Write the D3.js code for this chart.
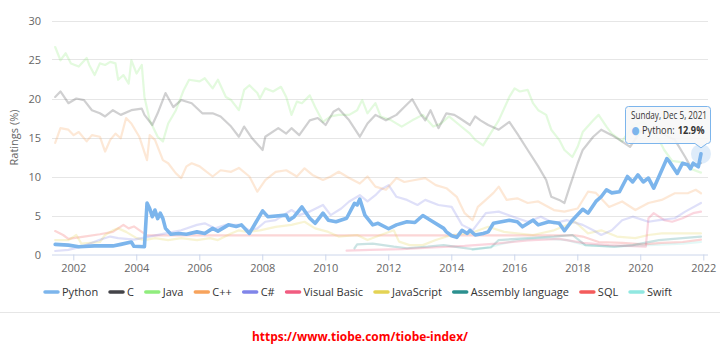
<!DOCTYPE html>
<html>
<head>
<meta charset="utf-8">
<script src="https://cdn.jsdelivr.net/npm/d3@7"></script>
<style>
  html, body { margin: 0; padding: 0; background: #fff; }
  svg { display: block; font-family: "Open Sans", "DejaVu Sans", sans-serif; }
</style>
</head>
<body>
<svg id="chart" width="720" height="347"></svg>
<script>
// ---------------- DATA ----------------
const seriesNames = ["Python", "C", "Java", "C++", "C#", "Visual Basic", "JavaScript", "Assembly language", "SQL", "Swift"];
const seriesColors = ["#7cb5ec", "#434348", "#90ed7d", "#f7a35c", "#8085e9", "#f15c80", "#e4d354", "#2b908f", "#f45b5b", "#91e8e1"];
const yTicks = [0, 5, 10, 15, 20, 25, 30];
const xTickYears = [2002, 2004, 2006, 2008, 2010, 2012, 2014, 2016, 2018, 2020, 2022];

const pythonData = [
  ["2001-06",1.3],["2001-11",1.2],["2002-03",1.0],["2002-09",1.1],["2003-04",1.1],["2003-07",1.3],["2003-11",1.6],["2003-12",1.05],
  ["2004-04",1.0],["2004-05",6.6],["2004-06",5.9],["2004-07",4.85],["2004-08",5.7],["2004-09",4.6],["2004-10",5.3],["2004-11",4.6],
  ["2004-12",3.35],["2005-02",2.6],["2005-05",2.7],["2005-08",2.6],["2005-12",2.9],["2006-03",2.7],["2006-06",3.35],["2006-08",3.0],
  ["2006-12",3.8],["2007-03",3.6],["2007-05",3.8],["2007-08",2.7],["2008-01",5.6],["2008-03",4.85],["2008-10",5.05],["2008-11",4.4],
  ["2009-01",4.85],["2009-04",6.1],["2009-07",4.65],["2009-09",4.0],["2009-12",5.3],["2010-02",4.4],["2010-05",4.2],["2010-09",4.65],
  ["2010-12",6.55],["2011-01",6.35],["2011-02",7.1],["2011-04",5.05],["2011-07",3.8],["2011-09",4.0],["2012-01",3.3],["2012-04",3.8],
  ["2012-08",4.2],["2012-11",4.1],["2013-02",5.0],["2013-05",4.4],["2013-10",3.35],["2013-11",2.9],["2014-01",2.4],["2014-03",2.2],
  ["2014-05",3.1],["2014-07",2.7],["2014-08",3.1],["2014-10",2.5],["2015-01",2.7],["2015-03",2.9],["2015-05",4.0],["2015-08",4.2],
  ["2015-11",4.4],["2016-02",4.2],["2016-04",3.55],["2016-08",4.4],["2016-10",3.8],["2017-02",4.2],["2017-06",4.0],["2017-08",3.05],
  ["2017-11",4.4],["2018-03",5.8],["2018-05",5.3],["2018-08",6.8],["2018-10",7.4],["2018-12",8.3],["2019-02",7.9],["2019-05",8.05],
  ["2019-08",10.0],["2019-10",9.3],["2019-12",10.2],["2020-02",9.3],["2020-04",9.8],["2020-06",8.5],["2020-08",10.0],["2020-11",12.3],
  ["2020-12",11.9],["2021-03",10.4],["2021-05",11.7],["2021-07",11.5],["2021-08",11.0],["2021-09",11.7],["2021-11",11.25],["2021-12",12.9]
];
const cData = [
  ["2001-06",20.2],["2001-08",20.9],["2001-11",19.4],["2002-02",20.0],["2002-05",19.8],["2002-08",18.5],["2002-11",18.1],["2003-01",17.7],
  ["2003-04",18.5],["2003-07",17.9],["2003-11",18.5],["2004-03",18.7],["2004-04",17.9],["2004-07",16.6],["2004-09",18.1],["2004-12",20.7],
  ["2005-03",18.9],["2005-06",19.8],["2005-10",19.4],["2006-02",18.1],["2006-06",18.1],["2006-09",17.7],["2007-01",16.4],["2007-04",15.1],
  ["2007-06",16.4],["2007-09",14.9],["2008-01",13.4],["2008-02",15.1],["2008-07",16.2],["2008-10",15.5],["2008-12",16.2],["2009-03",15.3],
  ["2009-07",17.2],["2009-10",17.5],["2010-01",16.6],["2010-04",18.3],["2010-06",18.7],["2010-10",17.2],["2011-02",15.1],["2011-05",16.8],
  ["2011-08",17.9],["2011-12",17.2],["2012-04",17.9],["2012-07",18.9],["2012-10",19.9],["2013-01",18.1],["2013-03",17.2],["2013-05",18.5],
  ["2013-08",16.2],["2013-11",18.1],["2014-02",17.9],["2014-04",17.5],["2014-08",16.6],["2014-10",17.7],["2014-12",17.2],["2015-03",16.6],
  ["2015-07",16.0],["2015-11",17.0],["2016-02",15.5],["2016-06",13.4],["2016-10",11.3],["2017-01",9.55],["2017-03",7.4],["2017-06",7.0],
  ["2017-08",6.6],["2017-10",8.7],["2018-01",11.7],["2018-03",13.4],["2018-07",15.1],["2018-10",16.0],["2019-02",15.3],["2019-05",14.7],
  ["2019-09",13.8],["2020-01",15.8],["2020-05",16.0],["2020-09",15.5],["2021-02",14.7],["2021-06",12.5],["2021-08",11.3],["2021-12",11.7]
];
const javaData = [
  ["2001-06",26.6],["2001-08",24.9],["2001-10",25.8],["2001-12",24.5],["2002-03",24.1],["2002-06",25.2],["2002-07",24.3],["2002-09",23.0],
  ["2002-11",24.5],["2003-01",24.3],["2003-03",24.7],["2003-05",24.5],["2003-06",22.4],["2003-08",23.0],["2003-10",21.9],["2003-11",24.9],
  ["2004-01",23.2],["2004-03",24.3],["2004-04",20.2],["2004-06",17.2],["2004-09",15.1],["2004-11",14.5],["2005-01",16.8],["2005-04",18.5],
  ["2005-07",21.1],["2005-09",22.4],["2006-01",22.2],["2006-03",22.6],["2006-06",21.3],["2006-08",22.4],["2006-11",20.2],["2007-01",19.8],
  ["2007-04",18.5],["2007-06",21.1],["2007-08",21.7],["2007-11",20.7],["2007-12",20.0],["2008-02",21.3],["2008-05",20.9],["2008-08",21.5],
  ["2008-10",20.2],["2008-12",17.9],["2009-02",19.6],["2009-04",19.4],["2009-07",20.4],["2009-09",18.9],["2009-12",17.0],["2010-03",17.7],
  ["2010-06",17.9],["2010-10",17.9],["2011-01",18.5],["2011-03",19.8],["2011-05",18.1],["2011-08",19.4],["2011-10",17.7],["2012-02",17.2],
  ["2012-06",16.4],["2012-10",17.2],["2013-02",17.9],["2013-06",16.4],["2013-09",16.8],["2013-12",17.7],["2014-04",16.6],["2014-08",15.5],
  ["2014-10",14.7],["2015-01",14.0],["2015-07",17.2],["2015-11",20.2],["2016-01",21.3],["2016-03",20.9],["2016-06",21.1],["2016-08",19.4],
  ["2016-10",18.5],["2017-01",17.9],["2017-03",16.0],["2017-06",14.7],["2017-08",13.4],["2017-11",12.5],["2018-01",13.8],["2018-03",15.7],
  ["2018-07",17.2],["2018-09",17.9],["2018-12",16.4],["2019-02",15.5],["2019-06",14.5],["2019-10",16.5],["2020-02",17.0],["2020-05",16.0],
  ["2020-08",14.7],["2020-10",13.4],["2021-01",12.0],["2021-05",11.8],["2021-08",11.0],["2021-12",10.5]
];
const cppData = [
  ["2001-06",14.3],["2001-08",16.2],["2001-11",16.0],["2002-01",15.3],["2002-03",15.7],["2002-06",14.5],["2002-08",15.3],["2002-11",15.1],
  ["2003-01",13.2],["2003-03",14.7],["2003-05",15.5],["2003-07",14.9],["2003-09",17.5],["2003-11",16.8],["2004-02",15.1],["2004-05",12.1],
  ["2004-06",15.3],["2004-08",14.7],["2004-11",12.1],["2005-01",11.7],["2005-04",10.4],["2005-06",9.8],["2005-08",11.3],["2005-10",11.7],
  ["2006-01",11.3],["2006-03",10.8],["2006-06",10.0],["2006-09",10.8],["2007-01",10.6],["2007-04",11.1],["2007-08",10.0],["2007-11",8.05],
  ["2008-02",9.55],["2008-06",10.6],["2008-10",10.8],["2009-02",10.0],["2009-05",11.05],["2009-08",10.2],["2009-12",9.55],["2010-03",10.0],
  ["2010-06",10.6],["2010-10",9.8],["2011-02",9.1],["2011-05",10.0],["2011-08",8.7],["2011-12",8.3],["2012-04",9.8],["2012-07",9.3],
  ["2012-11",9.55],["2013-03",9.8],["2013-07",8.9],["2013-11",8.5],["2014-03",7.4],["2014-06",5.3],["2014-09",4.4],["2014-11",6.1],
  ["2015-02",7.0],["2015-05",7.9],["2015-07",8.7],["2015-10",7.0],["2016-02",7.2],["2016-06",6.6],["2016-10",6.8],["2017-04",5.7],
  ["2017-08",5.5],["2018-01",5.9],["2018-05",8.05],["2018-08",7.9],["2019-01",6.1],["2019-06",6.8],["2019-11",5.7],["2020-04",6.6],
  ["2020-09",7.0],["2021-02",7.85],["2021-07",7.85],["2021-10",8.3],["2021-12",7.85]
];
const csharpData = [
  ["2001-06",0.45],["2001-11",0.6],["2002-04",1.0],["2002-11",1.9],["2003-03",2.3],["2003-06",2.1],["2003-12",1.9],["2004-03",2.1],
  ["2004-12",2.7],["2005-06",3.1],["2005-12",3.8],["2006-03",4.0],["2006-07",3.35],["2006-11",3.8],["2007-04",3.8],["2007-08",3.1],
  ["2007-11",3.35],["2008-02",4.2],["2008-06",4.4],["2008-12",5.7],["2009-03",5.05],["2009-07",5.5],["2009-12",6.35],["2010-03",5.05],
  ["2010-07",5.9],["2010-10",6.8],["2011-02",7.6],["2011-05",6.8],["2011-08",7.6],["2011-10",8.3],["2012-01",8.9],["2012-04",7.4],
  ["2012-08",7.0],["2012-12",6.35],["2013-03",7.0],["2013-08",6.35],["2014-01",6.1],["2014-05",3.8],["2014-09",3.1],["2014-12",4.4],
  ["2015-02",5.3],["2015-07",5.5],["2016-02",4.65],["2016-06",4.2],["2016-11",4.85],["2017-04",4.0],["2017-09",4.4],["2018-03",3.8],
  ["2018-07",3.1],["2018-10",2.5],["2019-02",3.1],["2019-06",4.4],["2019-10",4.85],["2020-04",4.2],["2020-08",4.4],["2021-02",4.65],
  ["2021-06",5.5],["2021-12",6.6]
];
const vbData = [
  ["2010-09",0.5],["2011-06",0.6],["2012-06",0.7],["2013-06",0.9],["2014-06",1.1],["2015-06",1.4],["2016-06",1.8],["2017-06",2.0],
  ["2018-03",1.5],["2019-01",1.2],["2020-03",1.0],["2020-04",4.65],["2020-06",5.3],["2020-10",4.4],["2021-01",4.2],["2021-05",4.65],
  ["2021-09",5.3],["2021-12",5.5]
];
const jsData = [
  ["2001-06",1.85],["2001-11",1.85],["2002-02",2.5],["2002-04",1.4],["2002-11",1.6],["2003-01",2.5],["2003-04",3.1],["2003-06",3.35],
  ["2003-09",2.9],["2004-01",2.1],["2004-04",1.85],["2004-08",2.1],["2005-01",1.85],["2005-06",2.1],["2005-12",1.85],["2006-05",2.1],
  ["2006-08",1.85],["2007-01",2.7],["2007-04",3.1],["2007-07",2.9],["2007-12",3.1],["2008-06",3.55],["2008-12",3.8],["2009-05",4.2],
  ["2009-09",3.35],["2010-02",2.9],["2010-06",2.3],["2011-01",2.5],["2011-05",1.85],["2011-10",2.5],["2012-03",3.1],["2012-05",1.65],
  ["2012-09",1.2],["2013-02",1.2],["2013-07",1.85],["2014-01",2.5],["2014-08",2.7],["2015-03",3.55],["2015-09",2.9],["2016-08",2.5],
  ["2017-04",3.1],["2017-12",4.2],["2018-05",2.7],["2018-10",3.1],["2019-04",2.3],["2019-11",2.1],["2020-04",2.5],["2020-09",2.7],
  ["2021-05",2.7],["2021-12",2.7]
];
const asmData = [
  ["2010-12",0.8],["2011-01",1.3],["2011-07",1.4],["2012-03",1.0],["2012-08",0.8],["2013-04",1.0],["2013-10",1.2],["2014-02",1.0],
  ["2014-09",0.7],["2015-04",0.9],["2015-07",1.85],["2016-06",2.1],["2017-04",2.3],["2017-11",2.5],["2018-04",1.2],["2019-03",1.0],
  ["2019-10",1.2],["2020-08",1.85],["2021-05",2.1],["2021-12",2.3]
];
const sqlData = [
  ["2001-06",3.0],["2001-09",2.5],["2001-11",2.0],["2002-05",2.3],["2002-11",2.6],["2003-04",2.9],["2003-08",3.8],["2003-10",3.35],
  ["2003-12",3.6],["2004-03",2.9],["2004-05",2.45],["2017-12",2.45],["2018-03",2.3],["2018-09",1.6],["2019-06",1.5],["2020-02",1.3],
  ["2020-09",1.5],["2021-05",1.6],["2021-12",1.9]
];
const swiftData = [
  ["2014-09",0.6],["2015-04",1.0],["2016-02",1.85],["2016-11",2.1],["2017-09",1.85],["2018-04",1.2],["2019-03",1.0],["2020-04",1.2],
  ["2021-05",1.4],["2021-12",1.6]
];
const seriesData = [pythonData, cData, javaData, cppData, csharpData, vbData, jsData, asmData, sqlData, swiftData];
const tooltipDate = "2021-12-05";
const yTitle = "Ratings (%)";
const sourceUrl = "https://www.tiobe.com/tiobe-index/";

// ---------------- CHART ----------------
const svg = d3.select("#chart");
const plot = { left: 52, right: 708, top: 20.5, bottom: 254.5 };

const parseMonth = s => { const [yy, mm] = s.split("-").map(Number); return new Date(yy, mm - 1, 5); };

function fitWidth(sel, target, base) {
  const w = sel.node().getComputedTextLength();
  if (w > 0) sel.style("font-size", (base * target / w).toFixed(2) + "px");
}

const x = d3.scaleTime()
  .domain([new Date(2002, 0, 1), new Date(2022, 0, 1)])
  .range([73.3, 703.3]);
const y = d3.scaleLinear().domain([0, 30]).range([plot.bottom, plot.top]);

// gridlines
svg.append("g").selectAll("line")
  .data(yTicks.filter(v => v > 0))
  .join("line")
  .attr("x1", plot.left).attr("x2", plot.right)
  .attr("y1", d => Math.round(y(d)) + 0.5).attr("y2", d => Math.round(y(d)) + 0.5)
  .attr("stroke", "#e6e6e6").attr("stroke-width", 1);

// y axis labels
const yAxis = d3.axisLeft(y).tickValues(yTicks).tickSize(0).tickPadding(11);
const gy = svg.append("g").attr("transform", `translate(${plot.left},0)`).call(yAxis);
gy.select(".domain").remove();
gy.selectAll("text").attr("fill", "#666").style("font-size", "11px").style("font-family", "'Open Sans', sans-serif");

// y title
svg.append("text")
  .attr("transform", `translate(18,${(plot.top + plot.bottom) / 2}) rotate(-90)`)
  .attr("text-anchor", "middle")
  .attr("fill", "#666")
  .style("font-size", "11px")
  .text(yTitle);

// x axis
const xAxis = d3.axisBottom(x)
  .tickValues(xTickYears.map(yr => new Date(yr, 0, 1)))
  .tickFormat(d3.timeFormat("%Y"))
  .tickSize(6).tickPadding(4);
const gx = svg.append("g").attr("transform", `translate(0,${plot.bottom})`).call(xAxis);
gx.select(".domain").remove();
gx.selectAll(".tick line").attr("stroke", "#ccd6eb");
gx.selectAll("text").attr("fill", "#666").style("font-size", "11px").style("font-family", "'Open Sans', sans-serif");
svg.append("line")
  .attr("x1", plot.left).attr("x2", plot.right)
  .attr("y1", plot.bottom + 0.5).attr("y2", plot.bottom + 0.5)
  .attr("stroke", "#ccd6eb").attr("stroke-width", 1);

// lines
const line = d3.line()
  .x(d => x(parseMonth(d[0])))
  .y(d => y(d[1]))
  .curve(d3.curveLinear);

const lineG = svg.append("g");
for (let i = seriesNames.length - 1; i >= 1; i--) {
  lineG.append("path")
    .datum(seriesData[i])
    .attr("d", line)
    .attr("fill", "none")
    .attr("stroke", seriesColors[i])
    .attr("stroke-width", 2.2)
    .attr("stroke-linejoin", "round")
    .attr("stroke-linecap", "round")
    .attr("opacity", 0.25);
}
lineG.append("path")
  .datum(pythonData)
  .attr("d", line)
  .attr("fill", "none")
  .attr("stroke", seriesColors[0])
  .attr("stroke-width", 3.6)
  .attr("stroke-linejoin", "round")
  .attr("stroke-linecap", "round");

// hovered point halo
const last = pythonData[pythonData.length - 1];
const [ty, tm, td] = tooltipDate.split("-").map(Number);
const hoverDate = new Date(ty, tm - 1, td);
const px = x(hoverDate), py = y(last[1]);
svg.append("circle").attr("cx", px).attr("cy", py).attr("r", 10)
  .attr("fill", seriesColors[0]).attr("opacity", 0.25);

// tooltip
const tip = svg.append("g");
const bx = 625.5, by = 106.5, bw = 85, bh = 37, r = 3;
const ax = px, ay = py - 6;
const pathD = `M${bx + r},${by} H${bx + bw - r} Q${bx + bw},${by} ${bx + bw},${by + r} V${by + bh - r} Q${bx + bw},${by + bh} ${bx + bw - r},${by + bh}` +
  ` H${ax + 6} L${ax},${ay} L${ax - 6},${by + bh} H${bx + r} Q${bx},${by + bh} ${bx},${by + bh - r} V${by + r} Q${bx},${by} ${bx + r},${by} Z`;
tip.append("path").attr("d", pathD)
  .attr("fill", "rgba(247,247,247,0.9)")
  .attr("stroke", seriesColors[0]).attr("stroke-width", 1);

// a row of text pieces laid side by side, then squeezed horizontally to a target width
function textRow(parent, x0, y0, pieces, size, target) {
  const g = parent.append("g");
  let cx = 0;
  pieces.forEach(p => {
    const t = g.append("text").attr("x", cx).attr("y", 0)
      .attr("fill", p.color || "#333").style("font-size", size + "px")
      .style("font-weight", p.bold ? "bold" : "normal").text(p.text);
    cx += t.node().getComputedTextLength() + (p.space || 0);
  });
  const s = Math.min(1, target / cx);
  g.attr("transform", `translate(${x0},${y0}) scale(${s},1)`);
}
textRow(tip, bx + 5.5, by + 12.5, [{ text: d3.timeFormat("%A, %b %-d, %Y")(hoverDate) }], 10, 76);
textRow(tip, bx + 6, by + 27.5, [
  { text: "\u25CF", color: seriesColors[0], space: 3 },
  { text: seriesNames[0] + ":", space: 3.5 },
  { text: d3.format(".1f")(last[1]) + "%", bold: true }
], 11, 73);

// legend
const legend = svg.append("g").attr("transform", "translate(0,292)");
const items = legend.selectAll("g").data(seriesNames).join("g");
items.append("line")
  .attr("x1", 0).attr("x2", 13).attr("y1", 0).attr("y2", 0)
  .attr("stroke", (d, i) => seriesColors[i]).attr("stroke-width", 3.5).attr("stroke-linecap", "round");
items.append("text")
  .attr("x", 17).attr("y", 4)
  .attr("fill", "#333").style("font-size", "11px")
  .text(d => d);
const widths = [];
items.each(function () { widths.push(17 + this.querySelector("text").getComputedTextLength()); });
const startX = 45, endX = 672;
const gap = (endX - startX - d3.sum(widths)) / (widths.length - 1);
let lx = startX;
items.each(function (d, i) { d3.select(this).attr("transform", `translate(${lx},0)`); lx += widths[i] + gap; });

// divider
svg.append("line").attr("x1", 0).attr("x2", 720).attr("y1", 312.5).attr("y2", 312.5)
  .attr("stroke", "#e6e6e6").attr("stroke-width", 1);

// source url
const url = svg.append("text")
  .attr("x", 360).attr("y", 341)
  .attr("text-anchor", "middle")
  .attr("fill", "#ff0000")
  .style("font-size", "13px").style("font-weight", "bold")
  .text(sourceUrl);
fitWidth(url, 216, 13);
</script>
</body>
</html>
